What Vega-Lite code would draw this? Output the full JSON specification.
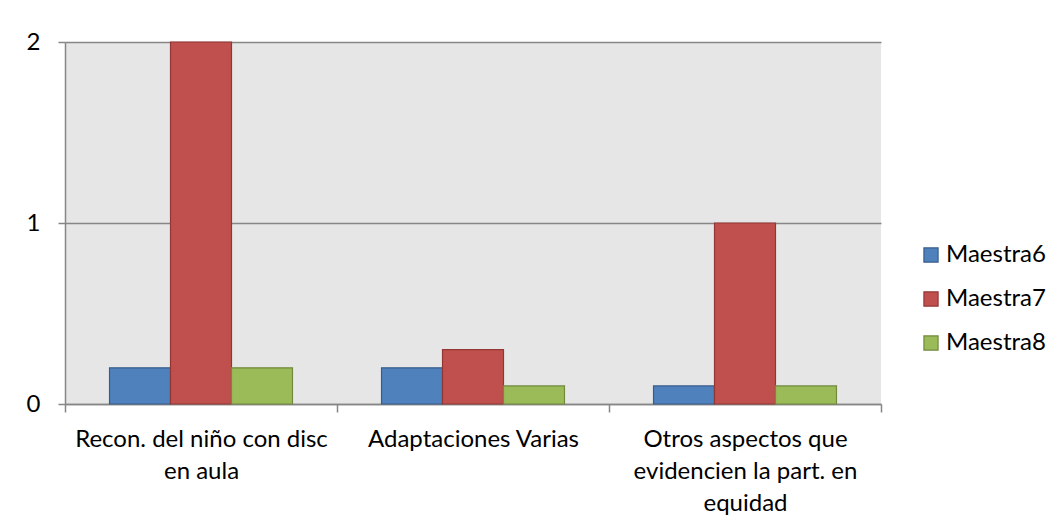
{
  "$schema": "https://vega.github.io/schema/vega-lite/v6.json",
  "width": 816,
  "height": 362,
  "autosize": "none",
  "padding": {"left": 65, "top": 42, "right": 180, "bottom": 125},
  "background": "white",
  "data": {
    "values": [
      {"cat": "Recon. del niño con disc en aula", "serie": "Maestra6", "valor": 0.2},
      {"cat": "Recon. del niño con disc en aula", "serie": "Maestra7", "valor": 2},
      {"cat": "Recon. del niño con disc en aula", "serie": "Maestra8", "valor": 0.2},
      {"cat": "Adaptaciones Varias", "serie": "Maestra6", "valor": 0.2},
      {"cat": "Adaptaciones Varias", "serie": "Maestra7", "valor": 0.3},
      {"cat": "Adaptaciones Varias", "serie": "Maestra8", "valor": 0.1},
      {"cat": "Otros aspectos que evidencien la part. en equidad", "serie": "Maestra6", "valor": 0.1},
      {"cat": "Otros aspectos que evidencien la part. en equidad", "serie": "Maestra7", "valor": 1},
      {"cat": "Otros aspectos que evidencien la part. en equidad", "serie": "Maestra8", "valor": 0.1}
    ]
  },
  "mark": {"type": "bar", "strokeWidth": 1.2},
  "encoding": {
    "x": {
      "field": "cat",
      "type": "nominal",
      "sort": null,
      "scale": {"paddingInner": 0, "paddingOuter": 0},
      "axis": {
        "title": null,
        "labelAngle": 0,
        "tickBand": "extent",
        "tickSize": 8,
        "labelPadding": 15,
        "labelBaseline": "top",
        "labelLineHeight": 32,
        "labelLimit": 0,
        "labelExpr": "datum.value == 'Recon. del niño con disc en aula' ? ['Recon. del niño con disc', 'en aula'] : (datum.value == 'Otros aspectos que evidencien la part. en equidad' ? ['Otros aspectos que', 'evidencien la part. en', 'equidad'] : datum.value)"
      }
    },
    "xOffset": {
      "field": "serie",
      "type": "nominal",
      "scale": {"paddingInner": 0, "paddingOuter": 0.73}
    },
    "y": {
      "field": "valor",
      "type": "quantitative",
      "scale": {"domain": [0, 2], "nice": false},
      "axis": {
        "title": null,
        "values": [0, 1, 2],
        "labelExpr": "format(datum.value, 'd')",
        "tickSize": 7,
        "labelPadding": 18,
        "grid": true
      }
    },
    "color": {
      "field": "serie",
      "type": "nominal",
      "title": null,
      "scale": {"range": ["#4F81BD", "#C0504D", "#9BBB59"]}
    },
    "stroke": {
      "field": "serie",
      "type": "nominal",
      "title": null,
      "scale": {"range": ["#385D8A", "#943634", "#71893F"]}
    }
  },
  "config": {
    "font": "Lato",
    "view": {"fill": "#E6E6E6", "stroke": null},
    "axis": {
      "labelFont": "Lato",
      "labelFontSize": 24,
      "labelColor": "#000000",
      "domainColor": "#868686",
      "tickColor": "#868686",
      "gridColor": "#868686",
      "domainWidth": 1.5,
      "tickWidth": 1.5,
      "gridWidth": 1.5,
      "labelOverlap": false
    },
    "axisX": {"grid": false},
    "legend": {
      "orient": "none",
      "legendX": 854,
      "legendY": 201,
      "padding": 0,
      "symbolType": "square",
      "symbolSize": 200,
      "symbolStrokeWidth": 1.2,
      "labelFont": "Lato",
      "labelFontSize": 24,
      "labelColor": "#000000",
      "labelOffset": 3,
      "rowPadding": 20,
      "labelLimit": 0
    }
  }
}
